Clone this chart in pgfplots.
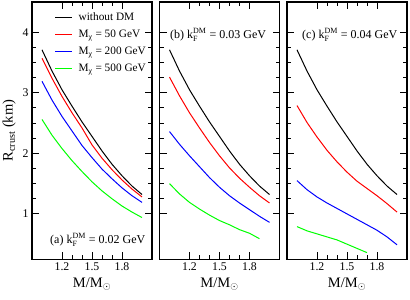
\documentclass[border=0pt]{standalone}
\usepackage{fontspec}
\setmainfont{Liberation Serif}
\usepackage{pgfplots}
\pgfplotsset{compat=1.18}

\pgfplotstableread{
M black red blue green
1.0 3.71 3.57 3.19 2.56
1.1 3.36 3.24 2.88 2.30
1.2 3.05 2.94 2.61 2.08
1.3 2.78 2.67 2.37 1.88
1.4 2.52 2.42 2.13 1.70
1.5 2.28 2.14 1.93 1.53
1.6 2.04 1.92 1.74 1.38
1.7 1.82 1.73 1.58 1.25
1.8 1.63 1.56 1.43 1.13
1.9 1.46 1.41 1.30 1.03
2.0 1.32 1.28 1.19 0.94
}\dataA

\pgfplotstableread{
M black red blue
1.0 3.71 3.26 2.36
1.1 3.36 2.95 2.15
1.2 3.05 2.67 1.96
1.3 2.78 2.42 1.78
1.4 2.52 2.18 1.60
1.5 2.28 1.96 1.44
1.6 2.04 1.76 1.30
1.7 1.82 1.59 1.18
1.8 1.63 1.44 1.07
1.9 1.46 1.30 0.96
2.0 1.32 1.18 0.86
}\dataB

\pgfplotstableread{
M green
1.0 1.50
1.1 1.33
1.2 1.19
1.3 1.08
1.4 0.98
1.5 0.89
1.6 0.82
1.7 0.74
1.8 0.68
1.9 0.59
}\dataBg

\pgfplotstableread{
M black red blue
1.0 3.71 2.79 1.55
1.1 3.36 2.51 1.40
1.2 3.05 2.27 1.28
1.3 2.78 2.05 1.18
1.4 2.52 1.86 1.09
1.5 2.28 1.69 1.00
1.6 2.04 1.54 0.91
1.7 1.82 1.42 0.82
1.8 1.63 1.30 0.73
1.9 1.46 1.17 0.62
2.0 1.32 1.03 0.49
}\dataC

\pgfplotstableread{
M green
1.0 0.79
1.1 0.72
1.2 0.67
1.3 0.62
1.4 0.57
1.5 0.50
1.6 0.43
1.7 0.36
}\dataCg

\definecolor{pgreen}{RGB}{0,255,0}

\pgfplotsset{
  panel/.style={
    width=120pt, height=257.3pt, scale only axis,
    xmin=0.9, xmax=2.1, ymin=0.25, ymax=4.5,
    xtick={1.2,1.5,1.8}, minor x tick num=2,
    ytick={1,2,3,4}, minor y tick num=3,
    tick align=inside,
    major tick length=7pt, minor tick length=4pt,
    axis line style={line width=1.3pt},
    every tick/.append style={line width=0.9pt, black},
    /pgf/number format/assume math mode=true,
    xticklabel style={/pgf/number format/fixed, /pgf/number format/precision=1},
    yticklabel style={/pgf/number format/fixed, /pgf/number format/precision=0},
    tick label style={font=\fontsize{11.8}{13}\selectfont},
    label style={font=\fontsize{14.5}{16}\selectfont},
    xlabel={M/M$_\odot$},
    every axis plot/.append style={line width=1pt, no marks},
  }
}

\begin{document}
\begin{tikzpicture}
\path[use as bounding box] (-32pt,-40pt) rectangle (378pt,259.3pt);
\begin{axis}[panel, at={(0pt,0pt)},
  ylabel={R\textsubscript{crust} (km)},
  every axis y label/.style={at={(rel axis cs:-0.19,0.5)}, rotate=90, anchor=center, font=\fontsize{14.5}{16}\selectfont},
  legend style={at={(rel axis cs:0.16,0.975)}, anchor=north west, draw=none, fill=none,
    font=\fontsize{11.3}{12}\selectfont, row sep=4pt, column sep=4pt},
  legend cell align=left,
  legend image post style={line width=1.2pt}]
\addplot[black] table[x=M,y=black] {\dataA};
\addlegendentry{without DM}
\addplot[red] table[x=M,y=red] {\dataA};
\addlegendentry{M\textsubscript{χ} = 50 GeV}
\addplot[blue] table[x=M,y=blue] {\dataA};
\addlegendentry{M\textsubscript{χ} = 200 GeV}
\addplot[pgreen] table[x=M,y=green] {\dataA};
\addlegendentry{M\textsubscript{χ} = 500 GeV}
\node[anchor=west, inner sep=0pt, font=\fontsize{12}{13}\selectfont] at (rel axis cs:0.15,0.075) {(a) $\mathrm{k}_\mathrm{F}^\mathrm{DM}$ = 0.02 GeV};
\end{axis}
\begin{axis}[panel, at={(127.5pt,0pt)}, yticklabels={}]
\addplot[black] table[x=M,y=black] {\dataB};
\addplot[red] table[x=M,y=red] {\dataB};
\addplot[blue] table[x=M,y=blue] {\dataB};
\addplot[pgreen] table[x=M,y=green] {\dataBg};
\node[anchor=west, inner sep=0pt, font=\fontsize{12}{13}\selectfont] at (rel axis cs:0.0875,0.872) {(b) $\mathrm{k}_\mathrm{F}^\mathrm{DM}$ = 0.03 GeV};
\end{axis}
\begin{axis}[panel, at={(255pt,0pt)}, yticklabels={}]
\addplot[black] table[x=M,y=black] {\dataC};
\addplot[red] table[x=M,y=red] {\dataC};
\addplot[blue] table[x=M,y=blue] {\dataC};
\addplot[pgreen] table[x=M,y=green] {\dataCg};
\node[anchor=west, inner sep=0pt, font=\fontsize{12}{13}\selectfont] at (rel axis cs:0.125,0.872) {(c) $\mathrm{k}_\mathrm{F}^\mathrm{DM}$ = 0.04 GeV};
\end{axis}
\end{tikzpicture}
\end{document}
